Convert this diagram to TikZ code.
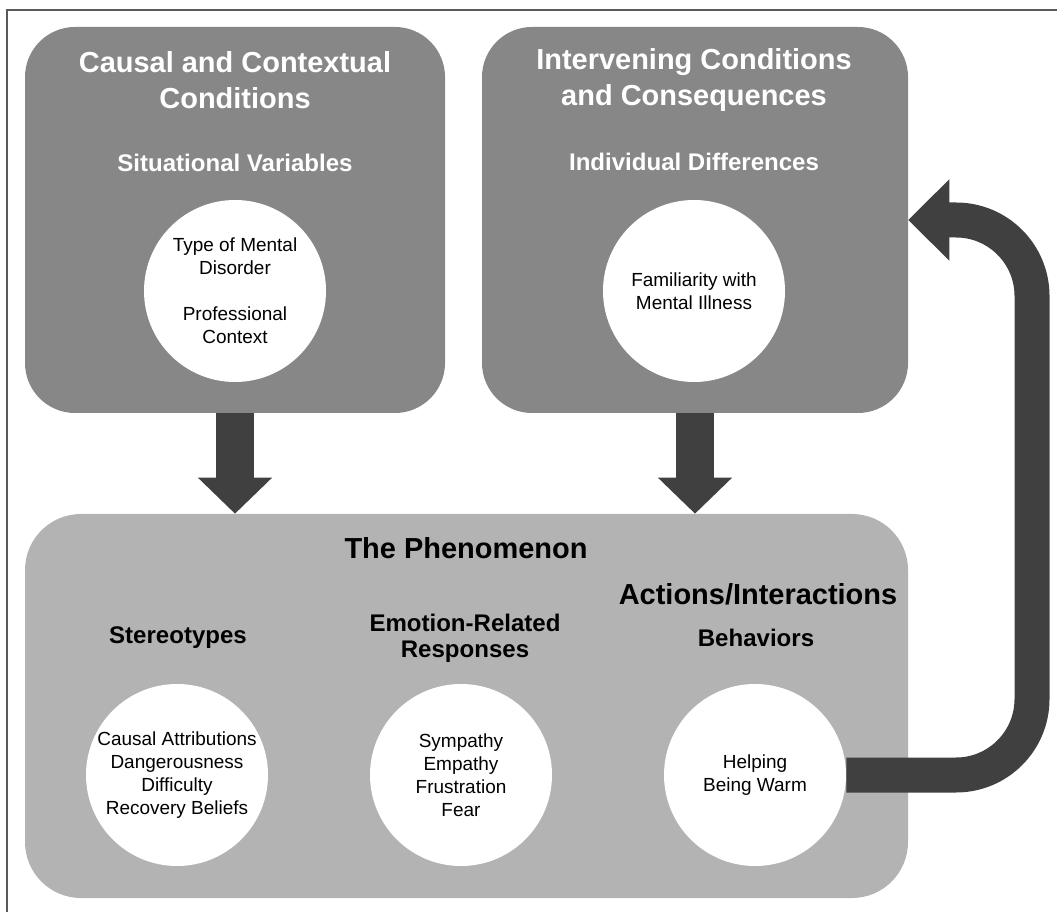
\documentclass[tikz,border=0pt]{standalone}
\usepackage{fontspec}
\setmainfont{Liberation Sans}
\usepackage{tikz}
\usetikzlibrary{arrows.meta}
\usetikzlibrary{positioning}

\definecolor{upgray}{HTML}{878787}
\definecolor{lowgray}{HTML}{B3B3B3}
\definecolor{arrowgray}{HTML}{404040}
\definecolor{framegray}{HTML}{5A5A5A}

\begin{document}
\begin{tikzpicture}[
		upbox/.style={rounded corners=1.25cm, fill=upgray, minimum height=9.65cm},
		lowbox/.style={rounded corners=1.4cm, fill=lowgray, minimum width=22.075cm, minimum height=9.6cm},
		bubble/.style={circle, fill=white, minimum size=4.55cm, inner sep=0pt, align=center, font=\fontsize{13.5pt}{16.4pt}\selectfont},
		bigtitle/.style={align=center, font=\fontsize{20.6pt}{25.6pt}\selectfont\bfseries},
		subtitle/.style={align=center, font=\fontsize{17.1pt}{18.5pt}\selectfont\bfseries},
		downarrow/.style={arrowgray, line width=0.94cm, -{Triangle[width=1.8cm,length=0.9cm]}},
		backarrow/.style={arrowgray, line width=0.875cm, rounded corners=1.9cm, -{Triangle[width=1.975cm,length=1.025cm]}}
	]
				\useasboundingbox (0,0) rectangle (26.425,22.8);
				\draw[framegray, line width=1.4pt] (0.175,0) -- (0.175,22.55) -- (26.425,22.55);
				
				% boxes
				\node[upbox, minimum width=10.5cm] (tlbox) at (5.875,17.3) {};
				\node[upbox, minimum width=10.65cm] (trbox) at (17.375,17.3) {};
				\node[lowbox] (phen) at (11.6625,5.15) {};
				
				% circles
				\node[bubble] (sit) at (5.875,15.525) {Type of Mental\\Disorder\\[16.4pt]Professional\\Context};
				\node[bubble] (ind) at (17.35,15.525) {Familiarity with\\Mental Illness};
				\node[bubble] (stereo) at (4.425,3.425) {Causal Attributions\\Dangerousness\\Difficulty\\Recovery Beliefs};
				\node[bubble] (emo) at (11.525,3.425) {Sympathy\\Empathy\\Frustration\\Fear};
				\node[bubble] (beh) at (18.875,3.425) {Helping\\Being Warm};
				
				% titles
				\node[bigtitle, white] (tltitle) at (5.875,20.8) {Causal and Contextual\\Conditions};
				\node[subtitle, white] (tlsub) at (5.875,18.725) {Situational Variables};
				\node[bigtitle, white] (trtitle) at (17.35,20.8) {Intervening Conditions\\and Consequences};
				\node[subtitle, white] (trsub) at (17.35,18.75) {Individual Differences};
				\node[bigtitle] (phentitle) at (11.65,9.1) {The Phenomenon};
				\node[subtitle] (stereotitle) at (4.45,6.85) {Stereotypes};
				\node[subtitle] (emotitle) at (11.625,6.85) {Emotion-Related\\Responses};
				\node[bigtitle] (acttitle) at (18.95,7.95) {Actions/Interactions};
				\node[subtitle] (behtitle) at (18.9,6.85) {Behaviors};
				
				% arrows
				\draw[downarrow] (tlbox.south) -- (tlbox.south |- phen.north);
				\draw[downarrow] (trbox.south) -- (trbox.south |- phen.north);
				\draw[backarrow] (beh.east) -| (25.8,17.3) -- (trbox.east);
			\end{tikzpicture}
\end{document}
